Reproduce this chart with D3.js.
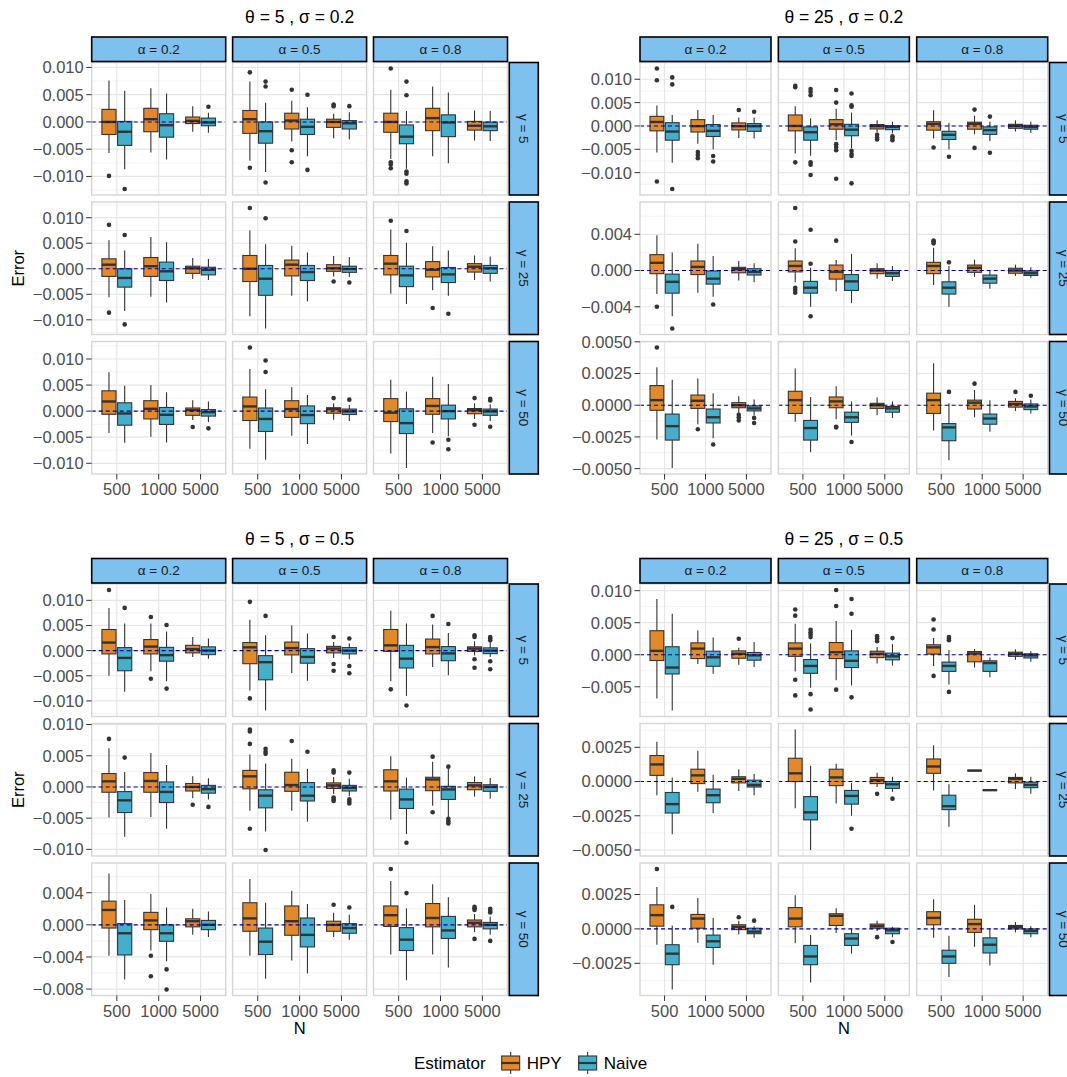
<!DOCTYPE html>
<html>
<head>
<meta charset="utf-8">
<script src="https://cdn.jsdelivr.net/npm/d3@7"></script>
<style>
  body { margin: 0; background: #fff; }
  svg { display: block; font-family: "Liberation Sans", Arial, Helvetica, sans-serif; }
</style>
</head>
<body>
<div id="chart"></div>
<script>
// =========================================================
//  Error of HPY vs Naive estimators — 4 sub-plots (θ × σ),
//  each a 3×3 facet grid (γ rows × α columns), boxplots by N
// =========================================================

const UNIT = 1e-3;                       // box values below are in units of 0.001
const N_LEVELS   = ['500', '1000', '5000'];
const ALPHAS     = ['0.2', '0.5', '0.8'];
const GAMMAS     = ['5', '25', '50'];
const ESTIMATORS = ['HPY', 'Naive'];
const TITLES     = [['5', '0.2'], ['25', '0.2'], ['5', '0.5'], ['25', '0.5']];

// box = [lower whisker, q1, median, q3, upper whisker, [outliers]]
// per facet: HPY 500, Naive 500, HPY 1000, Naive 1000, HPY 5000, Naive 5000
const BOX_T5_S02 = [
  [ // γ = 5
    [[-5.7,-2.3,0.0,2.3,7.6,[-9.9]], [-8.7,-4.3,-1.8,0.1,5.7,[-12.3]], [-5.6,-1.8,0.5,2.5,6.2,[]],
     [-6.9,-2.8,-0.6,1.5,5.2,[]], [-1.8,-0.3,0.2,0.9,2.9,[]], [-2.0,-0.7,-0.1,0.7,1.7,[2.8]]],
    [[-7.1,-2.1,0.5,2.1,7.4,[9.1,-8.4]], [-9.2,-3.9,-1.7,0.0,3.5,[7.4,6.5,-11.1]], [-3.6,-1.3,0.25,1.6,3.9,[5.9,-5.2,-7.4]],
     [-6.3,-2.3,-0.9,0.5,2.7,[5.0,-8.8]], [-3.0,-1.0,0.0,0.5,1.5,[3.2,2.9]], [-3.2,-1.3,-0.25,0.25,1.8,[2.9]]],
    [[-6.8,-1.9,0.0,1.6,5.9,[9.8,-7.4,-7.8,-8.5]], [-8.6,-4.0,-2.7,-0.55,2.0,[7.4,4.9,-9.1,-9.5,-10.9,-11.3]], [-6.3,-1.6,0.7,2.5,6.5,[]],
     [-7.6,-2.7,-0.1,1.3,5.4,[]], [-3.4,-1.5,-0.7,0.1,2.1,[]], [-3.5,-1.6,-0.8,-0.05,2.0,[]]]
  ],
  [ // γ = 25
    [[-5.6,-1.5,0.8,1.95,5.6,[8.6,-8.6]], [-8.3,-3.6,-1.8,0.0,3.6,[6.6,-10.9]], [-5.5,-1.5,0.5,2.2,6.2,[]],
     [-6.6,-2.3,-0.5,1.3,5.2,[]], [-2.0,-0.9,0.1,0.5,2.1,[]], [-2.2,-1.2,-0.2,0.3,1.9,[]]],
    [[-9.3,-2.5,0.0,2.6,7.5,[11.9]], [-11.7,-5.2,-1.95,0.65,4.8,[9.9]], [-5.3,-1.4,0.8,1.7,4.5,[]],
     [-6.4,-2.3,-0.65,0.65,3.2,[]], [-1.5,-0.5,0.1,0.8,2.5,[-2.5]], [-1.6,-0.7,-0.05,0.5,2.3,[-2.7]]],
    [[-4.9,-1.2,1.0,2.6,7.7,[9.4]], [-6.9,-3.5,-1.3,0.5,5.1,[7.4]], [-4.2,-1.6,-0.2,1.4,4.4,[-7.7]],
     [-5.3,-2.7,-1.1,0.25,3.6,[-8.8]], [-2.2,-0.65,0.4,1.0,2.6,[]], [-2.5,-0.9,0.1,0.65,2.4,[]]]
  ],
  [ // γ = 50
    [[-4.2,-0.6,1.85,3.9,7.45,[]], [-6.05,-2.7,-0.45,1.6,4.85,[]], [-4.9,-1.5,0.45,2.0,5.0,[]],
     [-6.0,-2.55,-0.7,0.7,3.6,[]], [-1.7,-0.8,0.2,0.6,2.1,[-3.05]], [-2.1,-0.95,-0.2,0.3,1.85,[-3.3]]],
    [[-7.2,-1.8,0.9,2.7,8.1,[12.2]], [-9.3,-3.9,-1.5,0.6,4.2,[9.7,7.5]], [-4.7,-1.2,0.4,2.0,4.6,[]],
     [-6.3,-2.4,-0.75,1.0,3.1,[]], [-1.65,-0.4,0.4,0.65,1.5,[2.5]], [-1.9,-0.65,-0.05,0.4,1.2,[2.2]]],
    [[-8.1,-2.0,-0.3,2.4,6.0,[]], [-10.9,-4.3,-2.3,0.45,3.75,[]], [-4.2,-0.6,1.0,2.4,6.6,[-6.0]],
     [-4.8,-1.5,0.0,1.15,5.2,[-5.5,-7.3]], [-1.5,-0.5,0.2,0.5,1.5,[2.5,-2.6]], [-1.9,-0.8,-0.05,0.4,1.3,[2.35,2.05,-3.0]]]
  ]
];

const BOX_T25_S02 = [
  [ // γ = 5
    [[-5.7,-1.05,0.85,2.05,4.4,[12.3,9.8,-11.9]], [-7.9,-3.05,-1.2,0.7,2.35,[10.4,8.9,-13.5]], [-3.8,-1.3,-0.05,1.35,3.4,[-5.6,-6.2,-6.9]],
     [-5.0,-2.25,-1.05,0.3,2.35,[-6.45,-7.6]], [-2.6,-0.85,-0.05,0.65,1.8,[3.4]], [-2.7,-1.15,-0.05,0.5,1.8,[3.05]]],
    [[-5.9,-1.05,0.0,2.35,4.2,[8.6,8.3,-7.8]], [-6.4,-3.05,-1.35,-0.2,1.65,[7.9,7.3,6.6,-7.8,-8.3,-10.5]], [-3.05,-0.7,0.35,1.35,3.7,[7.7,5.0,-3.9,-4.5,-5.2,-11.3]],
     [-4.75,-2.1,-0.8,0.35,2.85,[6.95,4.4,4.1,-5.3,-6.0,-6.45,-12.3]], [-1.4,-0.65,-0.05,0.3,1.2,[-1.9,-2.5,-2.9]], [-1.6,-0.8,-0.2,0.05,0.9,[-2.2,-2.6,-3.05]]],
    [[-2.7,-0.9,0.45,0.9,3.35,[-4.6]], [-5.05,-2.9,-1.9,-1.15,0.65,[-6.6]], [-1.8,-0.7,0.45,0.8,2.2,[3.5,-4.7]],
     [-3.2,-1.8,-0.9,-0.2,0.9,[2.0,-5.75]], [-1.2,-0.5,0.0,0.35,1.2,[]], [-1.5,-0.7,-0.2,0.15,0.9,[]]]
  ],
  [ // γ = 25
    [[-2.6,-0.35,0.85,1.75,3.9,[-4.0]], [-5.05,-2.5,-1.25,-0.4,2.0,[-6.4]], [-2.45,-0.45,0.4,1.05,2.95,[]],
     [-2.9,-1.5,-0.9,-0.05,1.6,[-3.75]], [-1.1,-0.25,0.15,0.35,1.05,[]], [-1.3,-0.5,-0.15,0.2,0.8,[]]],
    [[-1.3,-0.15,0.5,1.05,2.45,[6.9,3.2,-1.9,-2.15,-2.45]], [-4.0,-2.5,-1.9,-1.2,0.3,[4.5,0.75,-5.05]], [-2.3,-0.95,-0.15,0.6,1.15,[3.3]],
     [-3.6,-2.2,-1.2,-0.45,1.85,[]], [-0.9,-0.35,0.0,0.2,0.8,[]], [-1.15,-0.65,-0.3,0.0,0.5,[]]],
    [[-1.6,-0.35,0.5,0.9,2.5,[3.3,3.2,3.0]], [-4.0,-2.6,-1.9,-1.25,0.5,[0.9]], [-0.7,-0.2,0.3,0.6,1.2,[]],
     [-2.0,-1.4,-0.9,-0.5,-0.05,[]], [-0.6,-0.3,0.0,0.25,0.65,[]], [-0.8,-0.55,-0.3,-0.05,0.35,[]]]
  ],
  [ // γ = 50
    [[-2.7,-0.4,0.4,1.55,3.0,[4.55]], [-4.95,-2.75,-1.65,-0.7,2.0,[]], [-1.5,-0.25,0.35,0.8,2.1,[-1.9]],
     [-2.6,-1.4,-0.95,-0.3,0.95,[-3.1]], [-0.65,-0.2,0.0,0.2,0.7,[-0.75,-0.95,-1.2]], [-0.8,-0.45,-0.25,-0.05,0.45,[-1.0,-1.4]]],
    [[-1.3,-0.65,0.4,1.1,2.9,[]], [-3.7,-2.75,-1.8,-1.2,0.65,[]], [-1.1,-0.2,0.3,0.65,1.5,[-1.7,-1.75]],
     [-2.4,-1.35,-0.95,-0.55,0.3,[-2.9]], [-0.8,-0.25,0.0,0.15,0.6,[]], [-1.0,-0.55,-0.25,-0.1,0.3,[]]],
    [[-2.0,-0.65,0.4,0.95,3.3,[]], [-4.35,-2.8,-1.75,-1.45,0.15,[1.05]], [-0.95,-0.3,0.2,0.4,1.2,[1.7]],
     [-2.1,-1.5,-1.05,-0.7,0.4,[]], [-0.45,-0.15,0.1,0.3,0.55,[1.05]], [-0.65,-0.35,-0.1,0.1,0.45,[0.75]]]
  ]
];

const BOX_T5_S05 = [
  [ // γ = 5
    [[-5.0,-0.65,1.6,4.2,8.5,[12.05]], [-8.2,-4.0,-1.45,0.6,5.4,[8.5]], [-4.1,-0.65,0.8,2.2,5.4,[6.7,-5.6]],
     [-6.1,-2.1,-0.9,0.65,3.8,[5.1,-7.55]], [-1.25,-0.45,0.3,1.05,2.7,[]], [-1.6,-0.8,0.0,0.75,2.4,[]]],
    [[-7.95,-2.6,0.65,1.6,6.15,[9.7,-9.5]], [-11.9,-5.8,-2.3,-1.0,3.05,[6.9]], [-4.45,-0.85,0.5,1.7,5.0,[]],
     [-6.0,-2.5,-1.25,0.4,3.4,[]], [-1.45,-0.45,0.4,0.85,1.7,[2.7,-2.65,-4.0]], [-1.7,-0.65,0.0,0.6,1.4,[2.4,-3.05,-4.5]]],
    [[-6.1,-0.15,1.05,4.2,7.95,[-7.7]], [-9.0,-3.45,-1.6,1.05,5.4,[-10.9]], [-3.25,-0.65,0.7,2.3,5.2,[6.9]],
     [-4.9,-2.0,-0.55,0.8,3.5,[5.3]], [-0.95,-0.15,0.4,0.75,1.85,[3.05,2.7,-1.7,-3.4]], [-1.25,-0.6,0.0,0.55,1.85,[2.7,2.4,2.05,-2.1,-3.7]]]
  ],
  [ // γ = 25
    [[-4.9,-0.85,0.9,2.15,6.2,[7.7]], [-8.0,-4.1,-2.15,-0.75,2.4,[4.7]], [-4.8,-0.85,0.95,2.3,5.45,[]],
     [-6.7,-2.5,-0.8,0.8,3.5,[]], [-1.8,-0.65,0.0,0.55,1.7,[-2.85]], [-2.0,-1.0,-0.35,0.25,1.4,[-3.2]]],
    [[-3.8,-0.3,1.7,2.65,5.2,[9.2,8.9,6.9,-6.7]], [-7.15,-3.35,-1.4,-0.45,3.75,[6.1,5.65,5.3,-10.1]], [-3.8,-0.7,0.3,2.35,4.5,[7.35]],
     [-5.55,-2.25,-1.4,0.7,2.9,[5.65]], [-1.15,-0.25,0.25,0.65,1.6,[2.65,2.3,-1.7,-2.0,-2.25]], [-1.5,-0.65,-0.15,0.25,1.3,[2.3,-2.0,-2.35,-2.65]]],
    [[-5.25,-0.65,0.9,2.75,4.9,[]], [-7.55,-3.45,-2.0,-0.35,1.5,[-8.95]], [-3.0,-0.6,1.2,1.55,4.05,[4.85,-4.05]],
     [-4.8,-2.0,-0.4,0.1,2.95,[3.25,-5.1,-5.5,-5.85]], [-1.55,-0.45,0.25,0.7,1.7,[]], [-1.9,-0.7,0.0,0.35,1.45,[]]]
  ],
  [ // γ = 50
    [[-3.85,-0.4,1.85,2.95,6.4,[]], [-6.8,-3.75,-1.05,0.15,3.1,[]], [-3.2,-0.6,0.55,1.55,3.85,[-3.85,-6.4]],
     [-4.55,-2.05,-1.05,0.0,2.15,[-5.55,-8.05]], [-1.25,-0.25,0.45,0.75,2.0,[]], [-1.5,-0.6,0.0,0.55,1.65,[]]],
    [[-3.85,-0.8,0.8,2.75,5.7,[]], [-6.7,-3.7,-2.1,-0.4,2.75,[]], [-4.45,-1.3,0.45,2.35,4.25,[]],
     [-6.05,-2.75,-1.25,0.85,2.6,[]], [-1.5,-0.8,0.0,0.45,1.5,[2.5]], [-1.85,-1.05,-0.4,0.15,1.25,[2.15]]],
    [[-3.7,-0.2,1.2,2.35,5.45,[6.95]], [-6.9,-3.2,-1.85,-0.35,2.05,[3.95]], [-3.7,-0.25,0.85,2.65,5.05,[]],
     [-5.3,-1.7,-0.7,1.05,3.45,[]], [-0.9,-0.25,0.25,0.6,1.35,[2.25,2.05,1.85,-1.75]], [-1.25,-0.5,0.0,0.3,1.05,[2.0,1.75,1.55,-2.0]]]
  ]
];

const BOX_T25_S05 = [
  [ // γ = 5
    [[-6.85,-0.9,0.6,3.75,8.7,[]], [-8.7,-3.0,-2.0,1.25,6.4,[]], [-1.45,-0.6,0.95,1.85,3.8,[]],
     [-2.95,-1.8,-0.4,0.55,2.7,[]], [-1.55,-0.55,0.15,0.6,1.1,[2.5]], [-1.9,-0.85,-0.1,0.35,2.0,[]]],
    [[-2.6,-0.25,0.95,1.85,4.85,[7.05,6.1,-3.9,-6.35]], [-5.15,-2.9,-1.75,-0.75,1.75,[3.9,3.5,3.15,2.75,-6.15,-8.55]], [-4.0,-0.6,0.4,1.9,5.25,[10.1,7.6,-5.45]],
     [-4.8,-2.0,-0.95,0.6,3.9,[8.7,6.4,-6.65]], [-1.35,-0.45,0.15,0.55,1.2,[2.9,2.55,2.1]], [-1.7,-0.8,-0.25,0.25,1.65,[2.6]]],
    [[-1.75,0.1,1.15,1.55,2.6,[5.5,3.95,-3.3]], [-4.65,-2.6,-1.75,-1.15,0.75,[2.75,2.5,2.25,-5.8]], [-2.0,-1.1,0.2,0.5,0.9,[]],
     [-3.5,-2.6,-1.3,-0.95,-0.45,[]], [-0.8,-0.25,0.15,0.4,0.85,[]], [-1.1,-0.5,-0.1,0.15,0.55,[]]]
  ],
  [ // γ = 25
    [[-1.0,0.45,1.25,1.9,2.9,[]], [-3.85,-2.3,-1.65,-0.8,0.3,[]], [-0.75,-0.15,0.45,0.9,2.25,[]],
     [-2.3,-1.55,-1.0,-0.55,0.5,[]], [-0.7,-0.1,0.2,0.35,0.9,[]], [-1.0,-0.4,-0.25,0.1,0.55,[]]],
    [[-1.95,0.0,0.6,1.7,3.8,[]], [-5.0,-2.8,-2.25,-1.1,1.15,[]], [-1.6,-0.3,0.3,0.9,1.3,[]],
     [-2.5,-1.65,-1.05,-0.65,-0.1,[-3.45]], [-0.4,-0.15,0.1,0.3,0.65,[-0.9]], [-0.75,-0.5,-0.2,0.0,0.35,[-1.25]]],
    [[-0.65,0.6,1.1,1.65,2.65,[]], [-3.3,-2.05,-1.8,-1.0,-0.2,[]], [0.74,0.78,0.8,0.82,0.82,[]],
     [-0.66,-0.65,-0.63,-0.61,-0.61,[]], [-0.55,-0.1,0.2,0.3,0.6,[]], [-0.9,-0.45,-0.25,-0.05,0.35,[]]]
  ],
  [ // γ = 50
    [[-1.15,0.2,1.0,1.75,3.05,[4.35]], [-4.4,-2.6,-1.8,-1.15,0.25,[1.6]], [-1.0,0.05,0.75,1.05,2.25,[]],
     [-2.6,-1.35,-0.9,-0.45,0.8,[]], [-0.4,-0.05,0.15,0.3,0.6,[0.85]], [-0.65,-0.35,-0.2,0.05,0.2,[0.6]]],
    [[-1.05,0.15,0.75,1.55,2.45,[]], [-3.9,-2.6,-2.0,-1.2,-0.45,[]], [-0.3,0.25,0.95,1.1,1.5,[]],
     [-1.8,-1.2,-0.7,-0.35,0.0,[]], [-0.15,0.05,0.2,0.35,0.6,[-0.6]], [-0.6,-0.35,-0.1,0.05,0.15,[-0.95]]],
    [[-0.65,0.3,0.8,1.25,2.15,[]], [-3.5,-2.5,-2.0,-1.55,-0.5,[]], [-1.3,-0.25,0.35,0.7,1.75,[]],
     [-2.65,-1.75,-1.15,-0.65,0.05,[]], [-0.25,0.0,0.15,0.25,0.5,[]], [-0.6,-0.35,-0.15,0.0,0.2,[]]]
  ]
];

// y-axis breaks, one list per γ row
const T10 = [-0.01, -0.005, 0, 0.005, 0.01];
const TICKS_T5_S02  = [T10, T10, T10];
const TICKS_T25_S02 = [T10, [-0.004, 0, 0.004], [-0.005, -0.0025, 0, 0.0025, 0.005]];
const TICKS_T5_S05  = [T10, T10, [-0.008, -0.004, 0, 0.004]];
const TICKS_T25_S05 = [[-0.005, 0, 0.005, 0.01], [-0.005, -0.0025, 0, 0.0025], [-0.0025, 0, 0.0025]];

// ---------------------------------------------------------
const FILL = { HPY: '#E28A2B', Naive: '#45AFCB' };
const INK = '#333333';
const AXIS_TXT = '#4D4D4D';
const STRIP_FILL = '#7EC0EE';
const PH = 132.5;          // panel height
const STRIP_H = 24.5;

const QUADS = [
  { title: TITLES[0], boxes: BOX_T5_S02,  ticks: TICKS_T5_S02,  x0: 91.7, pw: 134, gap: 6.9,  tops: [62.5, 202, 341.5], yTitle: true,  xTitle: false },
  { title: TITLES[1], boxes: BOX_T25_S02, ticks: TICKS_T25_S02, x0: 640,  pw: 131, gap: 7.35, tops: [62.5, 202, 341.5], yTitle: false, xTitle: false },
  { title: TITLES[2], boxes: BOX_T5_S05,  ticks: TICKS_T5_S05,  x0: 91.7, pw: 134, gap: 6.9,  tops: [584, 723.5, 863],  yTitle: true,  xTitle: true },
  { title: TITLES[3], boxes: BOX_T25_S05, ticks: TICKS_T25_S05, x0: 640,  pw: 131, gap: 7.35, tops: [584, 723.5, 863],  yTitle: false, xTitle: true },
];

const svg = d3.select('#chart').append('svg')
  .attr('width', 1067).attr('height', 1077)
  .attr('viewBox', '0 0 1067 1077');

function decimals(ticks) {
  return d3.max(ticks, t => {
    const s = String(+Math.abs(t).toPrecision(8));
    const i = s.indexOf('.');
    return i < 0 ? 0 : s.length - i - 1;
  });
}
const fmtTick = dec => v => (v < 0 ? '\u2212' : '') + Math.abs(v).toFixed(dec);

function minorBreaks(ticks, dom) {
  const step = ticks[1] - ticks[0];
  const out = [];
  for (let v = ticks[0] - step / 2; v <= dom[1]; v += step) {
    if (v >= dom[0]) out.push(v);
  }
  return out;
}

QUADS.forEach(q => {
  const g = svg.append('g');
  const colX = i => q.x0 + i * (q.pw + q.gap);
  const panelsRight = colX(2) + q.pw;
  const bottom = q.tops[2] + PH;

  // title, centred over the panel columns
  g.append('text')
    .attr('x', (q.x0 + panelsRight) / 2).attr('y', q.tops[0] - STRIP_H - 15)
    .attr('text-anchor', 'middle').attr('font-size', 17.5).attr('fill', '#000')
    .text(`\u03B8 = ${q.title[0]} , \u03C3 = ${q.title[1]}`);

  GAMMAS.forEach((gam, r) => {
    const top = q.tops[r];
    const rowBoxes = q.boxes[r];
    const vals = rowBoxes.flat().flatMap(b => [b[0], b[4], ...b[5]]).map(v => v * UNIT);
    vals.push(0);
    const ext = d3.extent(vals);
    const pad = (ext[1] - ext[0]) * 0.05;
    const dom = [ext[0] - pad, ext[1] + pad];
    const y = d3.scaleLinear().domain(dom).range([top + PH, top]);
    const ticks = q.ticks[r];
    const minors = minorBreaks(ticks, dom);

    ALPHAS.forEach((alp, c) => {
      const fx = colX(c);
      const x = d3.scalePoint().domain(N_LEVELS).range([fx, fx + q.pw]).padding(0.6);
      const step = x.step();
      const bw = 0.3375 * step;
      const off = 0.1875 * step;

      const pg = g.append('g');
      pg.append('rect').attr('x', fx).attr('y', top).attr('width', q.pw).attr('height', PH).attr('fill', '#fff');

      // grid
      pg.selectAll('line.minor').data(minors).join('line')
        .attr('x1', fx).attr('x2', fx + q.pw)
        .attr('y1', d => y(d)).attr('y2', d => y(d))
        .attr('stroke', '#F0F0F0').attr('stroke-width', 0.8);
      pg.selectAll('line.major').data(ticks).join('line')
        .attr('x1', fx).attr('x2', fx + q.pw)
        .attr('y1', d => y(d)).attr('y2', d => y(d))
        .attr('stroke', '#E6E6E6').attr('stroke-width', 1.2);
      pg.selectAll('line.vmaj').data(N_LEVELS).join('line')
        .attr('x1', d => x(d)).attr('x2', d => x(d))
        .attr('y1', top).attr('y2', top + PH)
        .attr('stroke', '#E6E6E6').attr('stroke-width', 1.2);

      // boxes
      const boxes = rowBoxes[c].map((b, i) => ({
        n: N_LEVELS[Math.floor(i / 2)], est: ESTIMATORS[i % 2],
        lo: b[0] * UNIT, q1: b[1] * UNIT, med: b[2] * UNIT, q3: b[3] * UNIT, hi: b[4] * UNIT,
        out: b[5].map(v => v * UNIT)
      }));
      const cx = d => x(d.n) + (d.est === 'HPY' ? -off : off);

      const bg = pg.selectAll('g.box').data(boxes).join('g').attr('class', 'box');
      bg.append('line')
        .attr('x1', cx).attr('x2', cx)
        .attr('y1', d => y(d.lo)).attr('y2', d => y(d.hi))
        .attr('stroke', INK).attr('stroke-width', 1.1);
      bg.append('rect')
        .attr('x', d => cx(d) - bw / 2).attr('width', bw)
        .attr('y', d => y(d.q3)).attr('height', d => Math.max(0.5, y(d.q1) - y(d.q3)))
        .attr('fill', d => FILL[d.est]).attr('stroke', INK).attr('stroke-width', 1.1);
      bg.append('line')
        .attr('x1', d => cx(d) - bw / 2).attr('x2', d => cx(d) + bw / 2)
        .attr('y1', d => y(d.med)).attr('y2', d => y(d.med))
        .attr('stroke', INK).attr('stroke-width', 2.4);
      bg.selectAll('circle').data(d => d.out.map(v => ({ v, x: cx(d) }))).join('circle')
        .attr('cx', d => d.x).attr('cy', d => y(d.v)).attr('r', 2.3)
        .attr('fill', INK);

      // reference line at zero
      pg.append('line')
        .attr('x1', fx).attr('x2', fx + q.pw)
        .attr('y1', y(0)).attr('y2', y(0))
        .attr('stroke', '#00008B').attr('stroke-width', 1.1)
        .attr('stroke-dasharray', '4,3');

      // panel border
      pg.append('rect').attr('x', fx).attr('y', top).attr('width', q.pw).attr('height', PH)
        .attr('fill', 'none').attr('stroke', '#D6D6D6').attr('stroke-width', 1.4);

      // column strip (top row only)
      if (r === 0) {
        g.append('rect')
          .attr('x', fx).attr('y', top - STRIP_H - 1).attr('width', q.pw).attr('height', STRIP_H)
          .attr('fill', STRIP_FILL).attr('stroke', '#000').attr('stroke-width', 1.6);
        g.append('text')
          .attr('x', fx + q.pw / 2).attr('y', top - 1 - STRIP_H / 2)
          .attr('dy', '0.35em').attr('text-anchor', 'middle')
          .attr('font-size', 13.5).attr('fill', '#1A1A1A')
          .text(`\u03B1 = ${alp}`);
      }

      // x axis under bottom row
      if (r === 2) {
        const xa = g.append('g');
        xa.selectAll('line').data(N_LEVELS).join('line')
          .attr('x1', d => x(d)).attr('x2', d => x(d))
          .attr('y1', top + PH).attr('y2', top + PH + 5.5)
          .attr('stroke', INK).attr('stroke-width', 1);
        xa.selectAll('text').data(N_LEVELS).join('text')
          .attr('x', d => x(d)).attr('y', top + PH + 21)
          .attr('text-anchor', 'middle').attr('font-size', 16.5).attr('fill', AXIS_TXT)
          .text(d => d);
      }
    });

    // y axis on first column
    const ya = g.append('g');
    const fmt = fmtTick(decimals(ticks));
    ya.selectAll('line').data(ticks).join('line')
      .attr('x1', q.x0 - 5.5).attr('x2', q.x0)
      .attr('y1', d => y(d)).attr('y2', d => y(d))
      .attr('stroke', INK).attr('stroke-width', 1);
    ya.selectAll('text').data(ticks).join('text')
      .attr('x', q.x0 - 8).attr('y', d => y(d)).attr('dy', '0.36em')
      .attr('text-anchor', 'end').attr('font-size', 16.5).attr('fill', AXIS_TXT)
      .text(fmt);

    // row strip (the right-hand one runs past the page edge, as in the source)
    const sx = panelsRight + 1.8;
    g.append('rect')
      .attr('x', sx).attr('y', top).attr('width', 29).attr('height', PH)
      .attr('fill', STRIP_FILL).attr('stroke', '#000').attr('stroke-width', 1.6);
    g.append('text')
      .attr('transform', `translate(${sx + 14.5},${top + PH / 2}) rotate(90)`)
      .attr('dy', '0.35em').attr('text-anchor', 'middle')
      .attr('font-size', 13.5).attr('fill', '#1A1A1A')
      .text(`\u03B3 = ${gam}`);
  });

  if (q.yTitle) {
    g.append('text')
      .attr('transform', `translate(18,${(q.tops[0] + bottom) / 2}) rotate(-90)`)
      .attr('dy', '0.35em').attr('text-anchor', 'middle')
      .attr('font-size', 16.5).attr('fill', '#000')
      .text('Error');
  }
  if (q.xTitle) {
    g.append('text')
      .attr('x', (q.x0 + panelsRight) / 2).attr('y', bottom + 38)
      .attr('text-anchor', 'middle').attr('font-size', 16.5).attr('fill', '#000')
      .text('N');
  }
});

// ---- legend ----
const leg = svg.append('g');
const legY = 1063;
const t0 = leg.append('text').attr('x', 0).attr('y', legY).attr('dy', '0.35em')
  .attr('font-size', 17).attr('fill', '#000').text('Estimator');
let cursor = t0.node().getComputedTextLength() + 15;
ESTIMATORS.forEach(est => {
  const kx = cursor + 10;
  leg.append('line').attr('x1', kx).attr('x2', kx).attr('y1', legY - 11).attr('y2', legY + 11)
    .attr('stroke', INK).attr('stroke-width', 1.1);
  leg.append('rect').attr('x', kx - 9).attr('y', legY - 7).attr('width', 18).attr('height', 14)
    .attr('fill', FILL[est]).attr('stroke', INK).attr('stroke-width', 1.1);
  leg.append('line').attr('x1', kx - 9).attr('x2', kx + 9).attr('y1', legY).attr('y2', legY)
    .attr('stroke', INK).attr('stroke-width', 2.2);
  const t = leg.append('text').attr('x', cursor + 26).attr('y', legY).attr('dy', '0.35em')
    .attr('font-size', 17).attr('fill', '#000').text(est);
  cursor += 26 + t.node().getComputedTextLength() + 16;
});
const legW = cursor - 16;
leg.attr('transform', `translate(${530.5 - legW / 2},0)`);
</script>
</body>
</html>
